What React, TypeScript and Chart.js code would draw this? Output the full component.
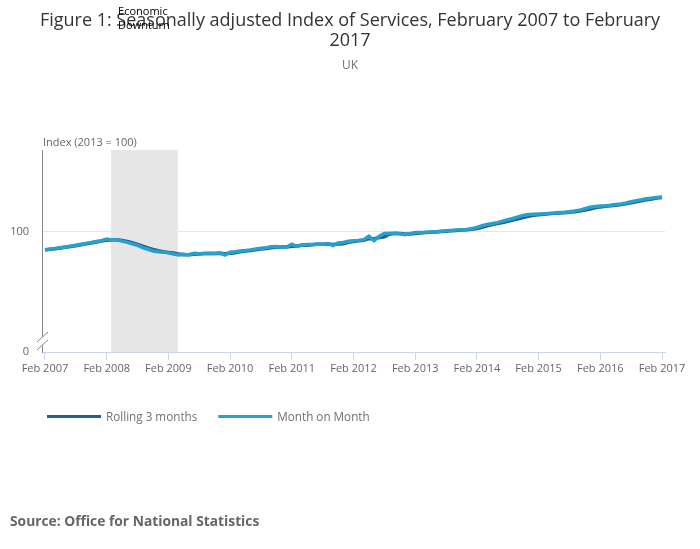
import React, { useEffect, useRef } from "react";
import { Chart, registerables } from "chart.js";

Chart.register(...registerables);

const TITLE_LINES = ["Figure 1: Seasonally adjusted Index of Services, February 2007 to February", "2017"];
const SUBTITLE = "UK";
const Y_TITLE = "Index (2013 = 100)";
const SOURCE = "Source: Office for National Statistics";
const BAND_LABEL = ["Economic", "Downturn"];

const TICK_LABELS = ["Feb 2007", "Feb 2008", "Feb 2009", "Feb 2010", "Feb 2011", "Feb 2012", "Feb 2013", "Feb 2014", "Feb 2015", "Feb 2016", "Feb 2017"];
const TICK_MONTHS = [0, 12, 24, 36, 48, 60, 72, 84, 96, 108, 120];
const Y_TICKS = [0, 100];

// month index 0 = Feb 2007 ... 120 = Feb 2017
const MONTH_ON_MONTH = [
  85.2, 85.8, 86.3, 86.8, 87.5, 88.2, 88.9, 89.8, 90.5, 91.2, 92.0, 92.8,
  94.2, 93.3, 93.5, 92.4, 91.3, 90.2, 88.8, 87.0, 85.6, 84.2, 83.6, 83.2,
  82.6, 81.6, 80.8, 81.2, 81.0, 82.2, 81.9, 82.1, 82.2, 82.0, 82.6, 80.8,
  83.2, 83.6, 84.2, 84.5, 85.1, 85.8, 86.4, 86.8, 87.6, 87.8, 87.0, 87.5,
  89.9, 88.0, 89.2, 89.6, 89.5, 90.0, 89.8, 90.4, 88.6, 90.8, 91.2, 92.2,
  92.6, 93.0, 93.6, 96.5, 92.8, 96.5, 98.8, 99.0, 98.8, 98.6, 97.8, 98.6,
  99.6, 99.5, 99.7, 100.0, 100.2, 100.6, 101.0, 101.3, 101.6, 101.8, 102.1, 102.8,
  103.8, 105.2, 106.3, 107.0, 107.8, 109.0, 110.2, 111.2, 112.6, 113.8, 114.5, 114.8,
  115.0, 115.2, 115.5, 115.8, 116.2, 116.4, 116.8, 117.4, 118.2, 119.5, 120.6, 121.2,
  121.6, 121.8, 122.3, 122.9, 123.4, 124.2, 125.2, 126.1, 126.8, 127.6, 128.2, 128.8,
  129.2,
];

const ROLLING_3M = [
  85.0, 85.5, 86.0, 86.6, 87.2, 87.9, 88.6, 89.4, 90.2, 90.9, 91.6, 92.4,
  93.2, 93.5, 93.5, 92.9, 92.0, 91.0, 89.7, 88.2, 86.7, 85.4, 84.4, 83.6,
  83.0, 82.4, 81.6, 81.2, 81.0, 81.4, 81.7, 82.0, 82.0, 82.1, 82.2, 81.8,
  82.2, 82.6, 83.6, 84.1, 84.6, 85.1, 85.8, 86.3, 86.9, 87.3, 87.4, 87.4,
  88.1, 88.4, 89.0, 88.9, 89.4, 89.7, 89.8, 90.0, 89.6, 89.9, 90.2, 91.4,
  92.0, 92.6, 93.1, 94.4, 94.3, 95.3, 96.0, 98.1, 98.9, 98.8, 98.4, 98.3,
  98.7, 99.2, 99.6, 99.7, 100.0, 100.3, 100.6, 101.0, 101.3, 101.6, 101.8, 102.2,
  102.8, 103.9, 105.2, 106.2, 107.0, 107.9, 108.9, 109.9, 110.9, 112.1, 113.1, 113.9,
  114.4, 114.8, 115.2, 115.5, 115.8, 116.1, 116.4, 116.8, 117.4, 118.2, 119.2, 120.2,
  120.9, 121.4, 121.8, 122.3, 122.8, 123.5, 124.3, 125.2, 126.0, 126.8, 127.5, 128.2,
  128.8,
];

const DOWNTURN = [12.85, 25.85]; // month indices

const FONT = "'Open Sans', 'Noto Sans', sans-serif";

const overlayPlugin = {
  id: "overlay",
  beforeDatasetsDraw(chart: any) {
    const { ctx, chartArea, scales } = chart;
    const x0 = scales.x.getPixelForValue(DOWNTURN[0]);
    const x1 = scales.x.getPixelForValue(DOWNTURN[1]);
    ctx.save();
    ctx.fillStyle = "#e6e6e6";
    ctx.fillRect(x0, chartArea.top, x1 - x0, chartArea.bottom - chartArea.top);
    ctx.restore();
  },
  afterDraw(chart: any) {
    const { ctx, chartArea, scales } = chart;
    ctx.save();
    // Title
    ctx.fillStyle = "#333333";
    ctx.textAlign = "center";
    ctx.textBaseline = "alphabetic";
    ctx.font = `18px ${FONT}`;
    ctx.fillText(TITLE_LINES[0], 350, 26);
    ctx.fillText(TITLE_LINES[1], 350, 46);
    ctx.fillStyle = "#707070";
    ctx.font = `12px ${FONT}`;
    ctx.fillText(SUBTITLE, 350, 69);
    // Band label
    const bx = scales.x.getPixelForValue(DOWNTURN[0]) + 7;
    ctx.fillStyle = "#000000";
    ctx.textAlign = "left";
    ctx.font = `11px ${FONT}`;
    ctx.fillText(BAND_LABEL[0], bx, 15);
    ctx.fillText(BAND_LABEL[1], bx, 29);
    // y title
    ctx.fillStyle = "#666666";
    ctx.font = `11px ${FONT}`;
    ctx.fillText(Y_TITLE, chartArea.left + 1, chartArea.top - 4);
    // axis break
    const ax = chartArea.left;
    const by = chartArea.bottom;
    ctx.fillStyle = "#ffffff";
    ctx.beginPath();
    ctx.moveTo(ax - 5, by - 10);
    ctx.lineTo(ax + 6, by - 20);
    ctx.lineTo(ax + 6, by - 12);
    ctx.lineTo(ax - 5, by - 2);
    ctx.closePath();
    ctx.fill();
    ctx.strokeStyle = "#888888";
    ctx.lineWidth = 1;
    ctx.beginPath();
    ctx.moveTo(ax - 5, by - 10);
    ctx.lineTo(ax + 6, by - 20);
    ctx.moveTo(ax - 5, by - 2);
    ctx.lineTo(ax + 6, by - 12);
    ctx.stroke();
    // Legend
    ctx.font = `11.7px ${FONT}`;
    ctx.textBaseline = "middle";
    let lx = 47;
    const ly = 416.5;
    chart.data.datasets
      .slice()
      .sort((a: any, b: any) => a.legendIndex - b.legendIndex)
      .forEach((ds: any) => {
        ctx.strokeStyle = ds.borderColor;
        ctx.lineWidth = 3;
        ctx.beginPath();
        ctx.moveTo(lx, ly);
        ctx.lineTo(lx + 54, ly);
        ctx.stroke();
        ctx.fillStyle = "#707070";
        ctx.fillText(ds.label, lx + 59, ly + 1);
        lx += 59 + ctx.measureText(ds.label).width + 21;
      });
    // Source
    ctx.fillStyle = "#666666";
    ctx.font = `bold 13.8px ${FONT}`;
    ctx.textBaseline = "middle";
    ctx.fillText(SOURCE, 10, 522.5);
    ctx.restore();
  },
};

export default function App() {
  const ref = useRef<HTMLCanvasElement | null>(null);
  useEffect(() => {
    document.body.style.margin = "0";
    if (!ref.current) return;
    const chart = new Chart(ref.current, {
      type: "line",
      data: {
        datasets: [
          {
            label: "Month on Month",
            data: MONTH_ON_MONTH.map((v, i) => ({ x: i, y: v })),
            borderColor: "#27a0cc",
            backgroundColor: "#27a0cc",
            borderWidth: 3.5,
            pointRadius: 0,
            tension: 0,
            order: 0,
            legendIndex: 1,
          } as any,
          {
            label: "Rolling 3 months",
            data: ROLLING_3M.map((v, i) => ({ x: i, y: v })),
            borderColor: "#206095",
            backgroundColor: "#206095",
            borderWidth: 3.5,
            pointRadius: 0,
            tension: 0,
            order: 1,
            legendIndex: 0,
          } as any,
        ],
      },
      options: {
        animation: false,
        responsive: false,
        maintainAspectRatio: false,
        layout: { padding: { top: 150, right: 35, bottom: 150, left: 0 } },
        plugins: { legend: { display: false }, tooltip: { enabled: false }, title: { display: false } },
        scales: {
          x: {
            type: "linear",
            min: -0.58,
            max: 120.58,
            afterBuildTicks: (scale: any) => {
              scale.ticks = TICK_MONTHS.map((v) => ({ value: v }));
            },
            afterFit: (scale: any) => {
              scale.height = 47;
            },
            ticks: {
              autoSkip: false,
              maxRotation: 0,
              padding: 2,
              color: "#666666",
              font: { family: FONT, size: 11 },
              callback: (v: any) => {
                const idx = TICK_MONTHS.indexOf(Number(v));
                return idx >= 0 ? TICK_LABELS[idx] : "";
              },
            },
            grid: { drawOnChartArea: false, drawTicks: true, tickLength: 8, color: "#ccd6eb" },
            border: { display: true, color: "#ccd6eb", width: 1 },
          },
          y: {
            type: "linear",
            min: 0,
            max: 168.3,
            afterBuildTicks: (scale: any) => {
              scale.ticks = Y_TICKS.map((v) => ({ value: v }));
            },
            afterFit: (scale: any) => {
              scale.width = 42;
            },
            ticks: {
              padding: 13,
              color: "#666666",
              font: { family: FONT, size: 11 },
            },
            grid: {
              drawTicks: false,
              color: (c: any) => (c.tick && c.tick.value === 100 ? "#e6e6e6" : "rgba(0,0,0,0)"),
            },
            border: { display: true, color: "#888888", width: 1 },
          },
        },
      },
      plugins: [overlayPlugin],
    });
    return () => chart.destroy();
  }, []);
  return (
    <div style={{ width: 700, height: 549 }}>
      <canvas ref={ref} width={700} height={549} style={{ display: "block", width: 700, height: 549 }} />
    </div>
  );
}
